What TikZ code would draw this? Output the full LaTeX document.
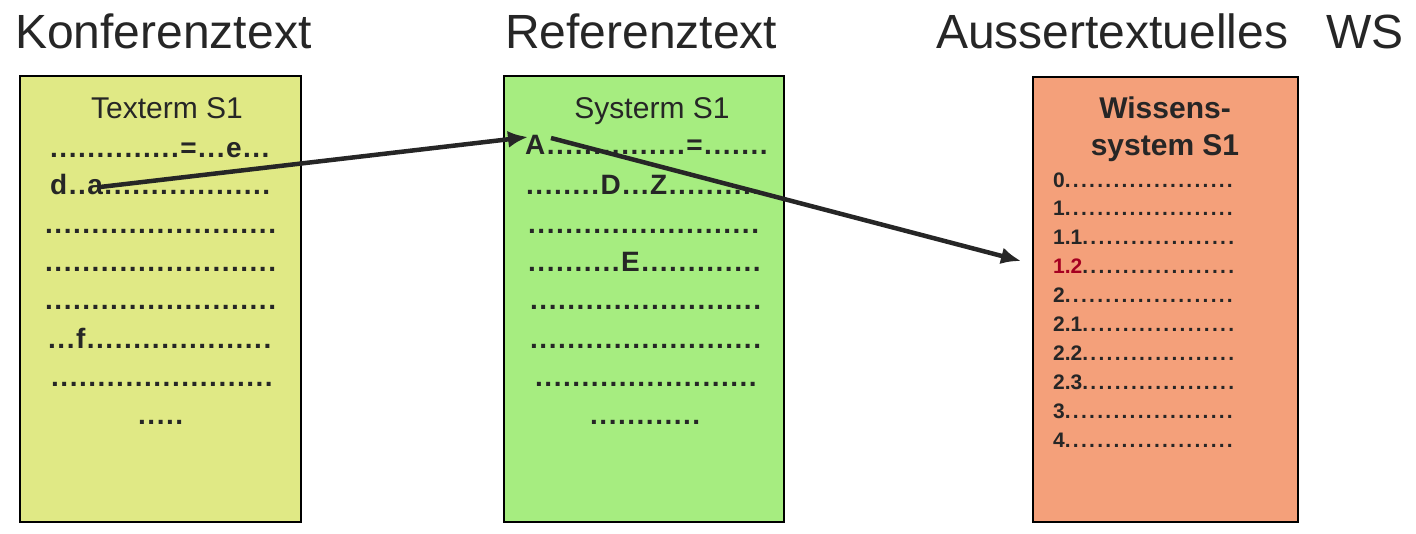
\documentclass[tikz,border=0pt]{standalone}
\usepackage{fontspec}
\setmainfont{Liberation Sans}
\usetikzlibrary{arrows.meta}
\definecolor{ink}{HTML}{262626}
\definecolor{yelfill}{HTML}{E0E985}
\definecolor{grnfill}{HTML}{A6ED80}
\definecolor{orgfill}{HTML}{F4A07A}
\definecolor{darkred}{HTML}{A50021}
\newcommand{\tightnum}[1]{{\addfontfeature{LetterSpace=0}#1}}
\begin{document}
\begin{tikzpicture}[x=1pt,y=-1pt,
  heading/.style={anchor=base west,inner sep=0pt,text=ink,font=\fontsize{48}{56}\selectfont},
  panel/.style={draw=black,line width=1.5pt},
  subhead/.style={anchor=base,inner sep=0pt,text=ink,font=\fontsize{30}{36}\selectfont},
  dotline/.style={anchor=base west,inner sep=0pt,text=ink,font=\bfseries\fontsize{28}{34}\selectfont\addfontfeature{LetterSpace=5.4}},
  wshead/.style={anchor=base,inner sep=0pt,text=ink,font=\bfseries\fontsize{30}{36}\selectfont},
  wsitem/.style={anchor=base west,inner sep=0pt,text=ink,font=\bfseries\fontsize{21}{25}\selectfont\addfontfeature{LetterSpace=10.8}},
  link/.style={draw=ink,line width=4.5pt,-{Latex[length=20pt,width=17pt]}}]
\useasboundingbox (0,0) rectangle (1416,533);
\fill[white] (0,0) rectangle (1416,533);

% headings
\node[heading] (h1) at (15,48) {Konferenztext};
\node[heading] (h2) at (505,48) {Referenztext};
\node[heading] (h3) at (936,48) {Aussertextuelles};
\node[heading] (h4) at (1326,48) {WS};

% panels
\filldraw[panel,fill=yelfill] (20,76) rectangle (301,522);
\filldraw[panel,fill=grnfill] (504,76) rectangle (784,522);
\filldraw[panel,fill=orgfill] (1033,77) rectangle (1298,522);

% left panel
\node[subhead] (t0) at (167,118) {Texterm S1};
\node[dotline] (t1) at (50,157) {..............=...e...};
\node[dotline] (t2) at (50,194) {d..a..................};
\node[dotline] (t3) at (45,233) {.........................};
\node[dotline] (t4) at (45,271) {.........................};
\node[dotline] (t5) at (45,309) {.........................};
\node[dotline] (t6) at (48,348) {...f....................};
\node[dotline] (t7) at (51,386) {........................};
\node[dotline] (t8) at (138,424) {.....};

% middle panel
\node[subhead] (s0) at (652,118) {Systerm S1};
\node[dotline] (s1) at (525,154) {A...............=.......};
\node[dotline] (s2) at (526,194) {........D...Z..........};
\node[dotline] (s3) at (528,233) {.........................};
\node[dotline] (s4) at (528,271) {..........E.............};
\node[dotline] (s5) at (530,309) {.........................};
\node[dotline] (s6) at (530,348) {.........................};
\node[dotline] (s7) at (535,386) {........................};
\node[dotline] (s8) at (590,424) {............};

% right panel
\node[wshead] (w0) at (1165,118) {Wissens-};
\node[wshead] (w1) at (1165,155) {system S1};
\node[wsitem] (i0) at (1053,187.0) {\tightnum{0}.....................};
\node[wsitem] (i1) at (1053,215.9) {\tightnum{1}.....................};
\node[wsitem] (i2) at (1053,244.8) {\tightnum{1.1}...................};
\node[wsitem] (i3) at (1053,273.7) {\tightnum{\textcolor{darkred}{1.2}}...................};
\node[wsitem] (i4) at (1053,302.6) {\tightnum{2}.....................};
\node[wsitem] (i5) at (1053,331.5) {\tightnum{2.1}...................};
\node[wsitem] (i6) at (1053,360.4) {\tightnum{2.2}...................};
\node[wsitem] (i7) at (1053,389.3) {\tightnum{2.3}...................};
\node[wsitem] (i8) at (1053,418.2) {\tightnum{3}.....................};
\node[wsitem] (i9) at (1053,447.1) {\tightnum{4}.....................};

% connectors
\coordinate (aStart) at (100,187);
\coordinate (AEnd) at (528,137);
\coordinate (AStart) at (551,138);
\coordinate (wsEnd) at (1021,261);
\draw[link] (aStart) -- (AEnd);
\draw[link] (AStart) -- (wsEnd);
\end{tikzpicture}
\end{document}
